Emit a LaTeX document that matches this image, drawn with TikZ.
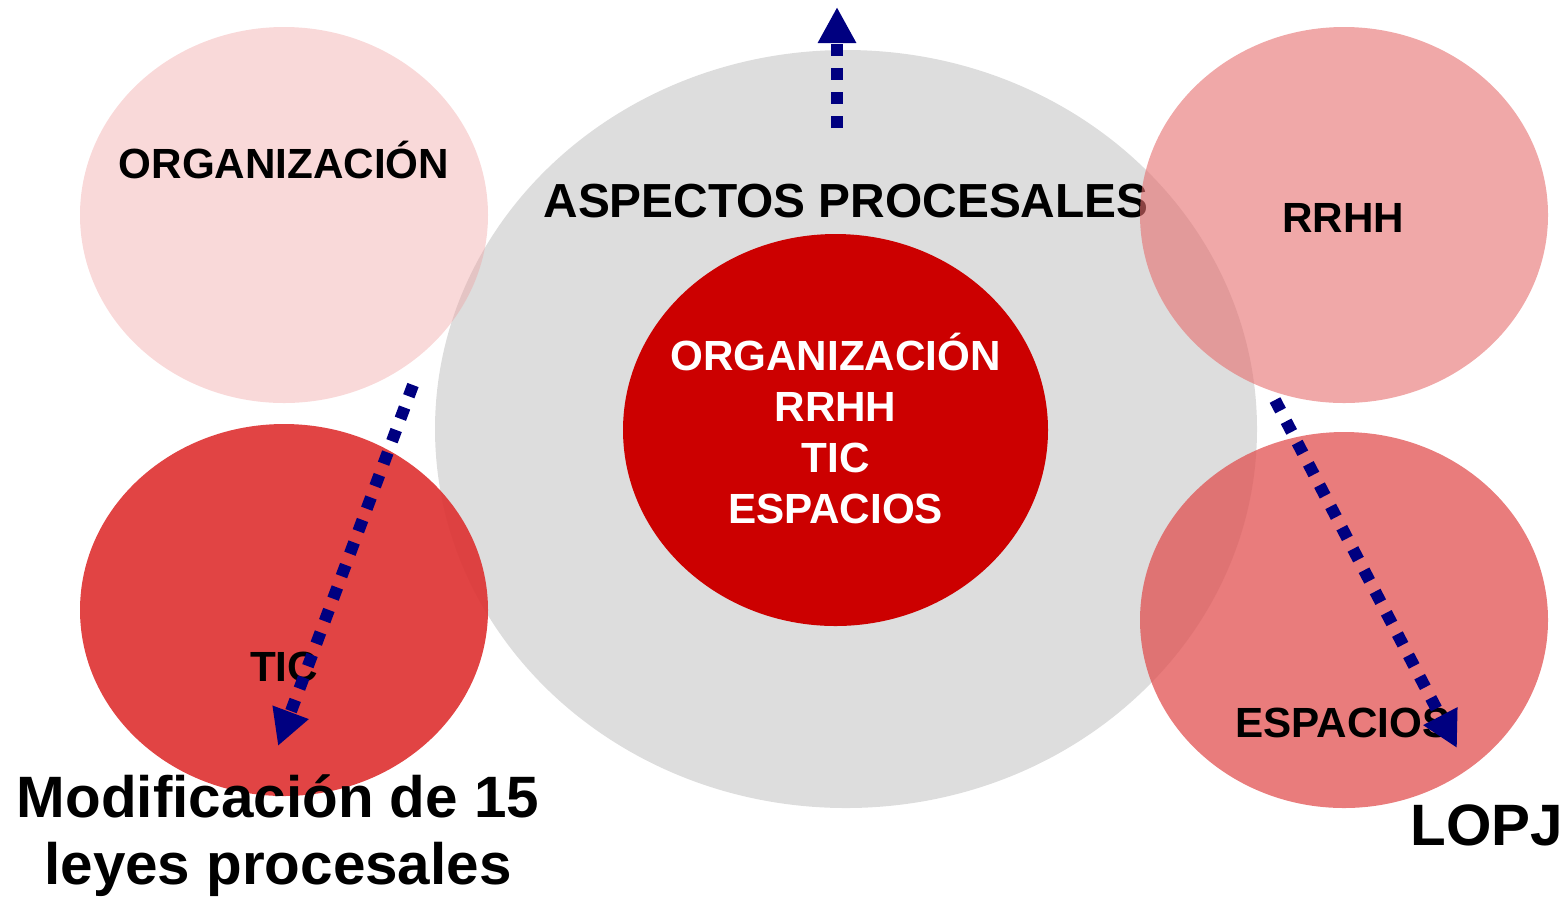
\documentclass[tikz,border=0pt]{standalone}
\usepackage{fontspec}
\setmainfont{Liberation Sans}
\usepackage{xcolor,tikz}
\usetikzlibrary{arrows.meta,positioning}
\definecolor{grisfondo}{RGB}{221,221,221}
\definecolor{rojocentro}{RGB}{204,0,0}
\definecolor{rosapalido}{RGB}{240,160,160}
\definecolor{rosarrhh}{RGB}{230,110,110}
\definecolor{rosaesp}{RGB}{225,80,80}
\definecolor{rojotic}{RGB}{222,52,52}
\definecolor{azulflecha}{RGB}{0,0,128}
\tikzset{
  flecha/.style={line width=0.12cm, azulflecha, dash pattern=on 0.12cm off 0.12cm,
    -{Triangle[length=0.36cm,width=0.36cm]}},
  etiqueta/.style={font=\bfseries\fontsize{12}{14.5}\selectfont, anchor=base},
  titulo/.style={font=\bfseries\fontsize{13.6}{16}\selectfont, anchor=base},
  grande/.style={font=\bfseries\fontsize{16.6}{19}\selectfont, anchor=base}
}

\begin{document}
\begin{tikzpicture}[x=0.01cm,y=-0.01cm]
\useasboundingbox (0,0) rectangle (1564,896);
%%%% central ellipses
\fill[grisfondo] (846,429) ellipse (411 and 379);
\fill[rojocentro] (835.5,430) ellipse (212.5 and 196);
\node[titulo] (aspectos) at (846,217) {ASPECTOS PROCESALES};
\node[etiqueta, white, align=center] (nucleo) at (835.5,523) {ORGANIZACIÓN\\RRHH\\TIC\\ESPACIOS};
%%%% side ellipses
\fill[rosapalido, opacity=0.4] (284,215) ellipse (204 and 188);
\fill[rojotic, opacity=0.92] (284,610) ellipse (204 and 186);
\fill[rosarrhh, opacity=0.6] (1344,215) ellipse (204 and 188);
\fill[rosaesp, opacity=0.75] (1344,620) ellipse (204 and 188);
\node[etiqueta] (organizacion) at (284,178) {ORGANIZACIÓN};
\node[etiqueta] (tic) at (284,681) {TIC};
\node[etiqueta] (rrhh) at (1343,232) {RRHH};
\node[etiqueta] (espacios) at (1343,737) {ESPACIOS};
%%%% outer labels
\node[grande, align=center] (leyes) at (278,884) {Modificación de 15\\leyes procesales};
\node[grande] (lopj) at (1487,845) {LOPJ};
%%%% arrows
\coordinate (arribaIni) at (837,128);
\coordinate (arribaFin) at (837,7);
\coordinate (izqIni) at (413,385);
\coordinate (izqFin) at (278,746);
\coordinate (derIni) at (1275,400);
\coordinate (derFin) at (1457,748);
\draw[flecha] (arribaIni) -- (arribaFin);
\draw[flecha] (izqIni) -- (izqFin);
\draw[flecha] (derIni) -- (derFin);
\end{tikzpicture}
\end{document}
